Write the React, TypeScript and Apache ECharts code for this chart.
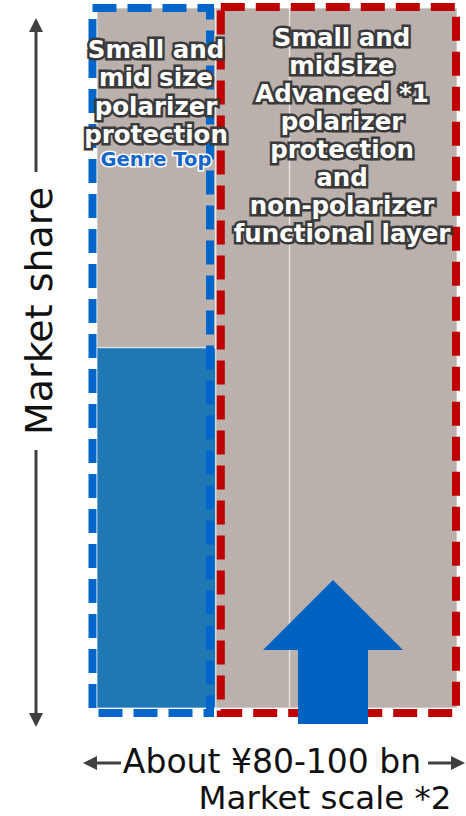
import React, { useEffect, useRef } from "react";
import * as echarts from "echarts";

// Market segments (share of total market scale, %)
const segments = [
  "Small and mid size polarizer protection",
  "Small and midsize Advanced polarizer protection",
  "Non-polarizer functional layer",
];
const marketScale = [33, 20.5, 46.5];
// Company share within each segment (%)
const companyShare = [51.5, 0, 0];
// Outline groups: [first segment index, last segment index]
const outlineGroups = [
  [0, 0],
  [1, 2],
];
const leftLabel = ["Small and", "mid size", "polarizer", "protection"];
const leftSubLabel = "Genre Top";
const rightLabel = [
  "Small and",
  "midsize",
  "Advanced *1",
  "polarizer",
  "protection",
  "and",
  "non-polarizer",
  "functional layer",
];
const yAxisTitle = "Market share";
const xAxisTitle = "About ¥80-100 bn";
const xAxisSubTitle = "Market scale *2";

const FILL = ["#1F77B4", "#BAB0AC"];
const OUTLINE = ["#0066CC", "#C00000"];
const FONT = "DejaVu Sans";

export default function App() {
  const ref = useRef<HTMLDivElement>(null);
  useEffect(() => {
    if (!ref.current) return;
    const chart = echarts.init(ref.current, null, { renderer: "svg" });

    const starts: number[] = [];
    let acc = 0;
    marketScale.forEach((w) => {
      starts.push(acc);
      acc += w;
    });
    const fillData: number[][] = [];
    marketScale.forEach((w, i) => {
      const x0 = starts[i];
      const x1 = x0 + w;
      fillData.push([x0, x1, 0, companyShare[i], 0]);
      fillData.push([x0, x1, companyShare[i], 100, 1]);
    });
    const outlineData = outlineGroups.map((g, i) => [
      starts[g[0]],
      starts[g[1]] + marketScale[g[1]],
      i,
    ]);
    const outlineOffsets = [
      [-4.5, -5.8, 0, 5],
      [5, -1, -1, 5],
    ];

    const labelStyle = {
      align: "center",
      verticalAlign: "top",
      lineHeight: 28.5,
      fontSize: 24.5,
      fontWeight: "bold",
      fontFamily: FONT,
      fill: "#ffffff",
      stroke: "#3a3a3a",
      lineWidth: 5,
      shadowBlur: 4,
      shadowColor: "rgba(0,0,0,0.6)",
    };

    const option: any = {
      animation: false,
      grid: { left: 97, top: 8, width: 360, height: 700 },
      xAxis: { type: "value", min: 0, max: 100, show: false },
      yAxis: { type: "value", min: 0, max: 100, show: false },
      series: [
        {
          type: "custom",
          name: "segments",
          data: fillData,
          z: 2,
          renderItem: (params: any, api: any) => {
            const p0 = api.coord([api.value(0), api.value(3)]);
            const p1 = api.coord([api.value(1), api.value(2)]);
            return {
              type: "rect",
              shape: {
                x: p0[0],
                y: p0[1],
                width: p1[0] - p0[0],
                height: p1[1] - p0[1],
              },
              style: {
                fill: FILL[api.value(4)],
                stroke: "rgba(255,255,255,0.45)",
                lineWidth: 1.5,
              },
            };
          },
        },
        {
          type: "custom",
          name: "outlines",
          data: outlineData,
          z: 3,
          renderItem: (params: any, api: any) => {
            const idx = api.value(2);
            const o = outlineOffsets[idx];
            const p0 = api.coord([api.value(0), 100]);
            const p1 = api.coord([api.value(1), 0]);
            const x0 = p0[0] + o[0];
            const x1 = p1[0] + o[1];
            const y0 = p0[1] + o[2];
            const y1 = p1[1] + o[3];
            return {
              type: "rect",
              shape: { x: x0, y: y0, width: x1 - x0, height: y1 - y0 },
              style: {
                fill: "none",
                stroke: OUTLINE[idx],
                lineWidth: 8,
                lineDash: [24, 11],
                lineCap: "butt",
              },
            };
          },
        },
      ],
      graphic: [
        // Growth arrow
        {
          type: "polygon",
          z: 100,
          shape: {
            points: [
              [333, 580],
              [403, 650],
              [368, 650],
              [368, 724],
              [298, 724],
              [298, 650],
              [263, 650],
            ],
          },
          style: { fill: "#0062C1" },
        },
        // Column labels
        {
          type: "text",
          z: 100,
          x: 156,
          y: 35,
          style: { ...labelStyle, text: leftLabel.join("\n") },
        },
        {
          type: "text",
          z: 100,
          x: 156,
          y: 159,
          style: {
            text: leftSubLabel,
            align: "center",
            verticalAlign: "middle",
            fontSize: 19.5,
            fontWeight: "bold",
            fontFamily: FONT,
            fill: "#1466C8",
            stroke: "#ffffff",
            lineWidth: 3,
          },
        },
        {
          type: "text",
          z: 100,
          x: 342,
          y: 23,
          style: { ...labelStyle, text: rightLabel.join("\n"), lineHeight: 28 },
        },
        // Y axis arrow
        {
          type: "line",
          z: 100,
          shape: { x1: 36, y1: 30, x2: 36, y2: 172 },
          style: { stroke: "#404040", lineWidth: 3 },
        },
        {
          type: "line",
          z: 100,
          shape: { x1: 36, y1: 450, x2: 36, y2: 715 },
          style: { stroke: "#404040", lineWidth: 3 },
        },
        {
          type: "polygon",
          z: 100,
          shape: { points: [[36, 18], [29, 32], [43, 32]] },
          style: { fill: "#404040" },
        },
        {
          type: "polygon",
          z: 100,
          shape: { points: [[36, 727], [29, 713], [43, 713]] },
          style: { fill: "#404040" },
        },
        {
          type: "text",
          z: 100,
          x: 39,
          y: 311,
          rotation: Math.PI / 2,
          style: {
            text: yAxisTitle,
            align: "center",
            verticalAlign: "middle",
            fontSize: 38,
            fontFamily: FONT,
            fill: "#111111",
          },
        },
        // X axis arrow
        {
          type: "line",
          z: 100,
          shape: { x1: 95, y1: 763, x2: 121, y2: 763 },
          style: { stroke: "#404040", lineWidth: 3 },
        },
        {
          type: "line",
          z: 100,
          shape: { x1: 428, y1: 763, x2: 453, y2: 763 },
          style: { stroke: "#404040", lineWidth: 3 },
        },
        {
          type: "polygon",
          z: 100,
          shape: { points: [[83, 763], [97, 756], [97, 770]] },
          style: { fill: "#404040" },
        },
        {
          type: "polygon",
          z: 100,
          shape: { points: [[465, 763], [451, 756], [451, 770]] },
          style: { fill: "#404040" },
        },
        {
          type: "text",
          z: 100,
          x: 272,
          y: 761,
          style: {
            text: xAxisTitle,
            align: "center",
            verticalAlign: "middle",
            fontSize: 33,
            fontFamily: FONT,
            fill: "#111111",
          },
        },
        {
          type: "text",
          z: 100,
          x: 325,
          y: 798,
          style: {
            text: xAxisSubTitle,
            align: "center",
            verticalAlign: "middle",
            fontSize: 32.5,
            fontFamily: FONT,
            fill: "#111111",
          },
        },
      ],
    };
    chart.setOption(option);
    return () => chart.dispose();
  }, []);
  return (
    <div
      ref={ref}
      style={{ position: "absolute", left: 0, top: 0, width: 466, height: 816 }}
    />
  );
}
